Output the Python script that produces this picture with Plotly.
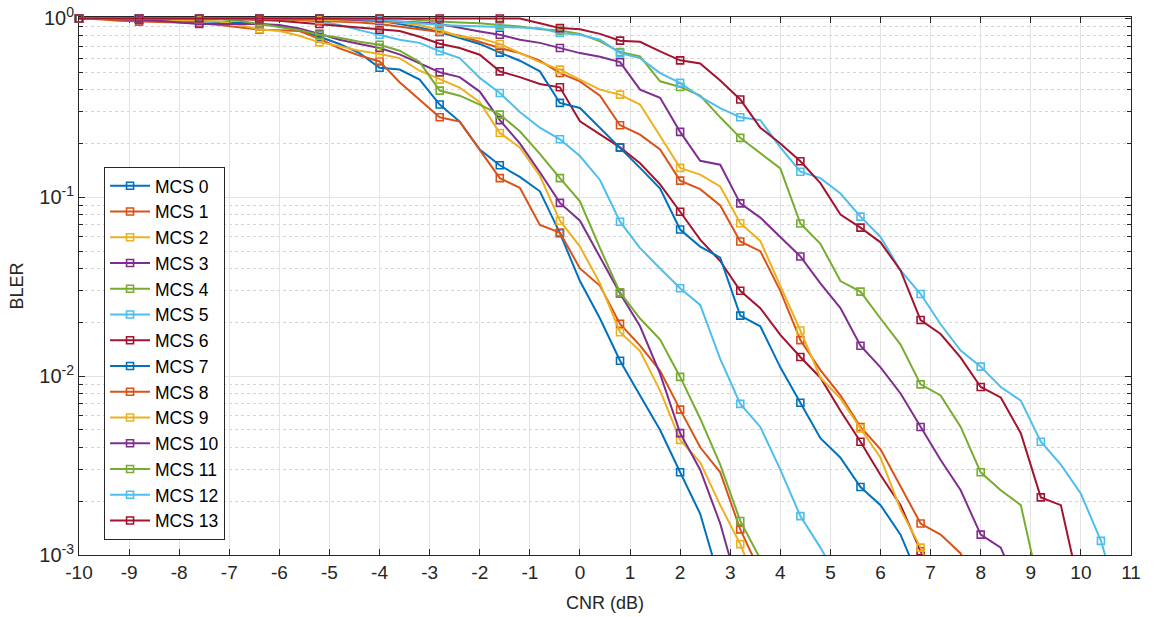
import plotly.graph_objects as go

# ---------------- data ----------------
CNR = [-10.0, -9.6, -9.2, -8.8, -8.4, -8.0, -7.6, -7.2, -6.8, -6.4, -6.0, -5.6, -5.2, -4.8,
       -4.4, -4.0, -3.6, -3.2, -2.8, -2.4, -2.0, -1.6, -1.2, -0.8, -0.4, 0.0, 0.4, 0.8,
       1.2, 1.6, 2.0, 2.4, 2.8, 3.2, 3.6, 4.0, 4.4, 4.8, 5.2, 5.6, 6.0, 6.4, 6.8, 7.2,
       7.6, 8.0, 8.4, 8.8, 9.2, 9.6, 10.0, 10.4, 10.8]

NAMES = ["MCS 0", "MCS 1", "MCS 2", "MCS 3", "MCS 4", "MCS 5", "MCS 6",
         "MCS 7", "MCS 8", "MCS 9", "MCS 10", "MCS 11", "MCS 12", "MCS 13"]

MCS0 = [1.0, 1.0, 1.0, 0.985, 0.98, 0.975, 0.965, 0.955, 0.945, 0.935, 0.90, 0.86, 0.79, 0.72, 0.64, 0.53,
        0.518, 0.455, 0.33, 0.265, 0.185, 0.151, 0.13, 0.108, 0.063, 0.034, 0.021, 0.0122, 0.0078, 0.0050,
        0.0029, 0.0017, 0.0007]
MCS1 = [1.0, 0.99, 0.97, 0.96, 0.955, 0.95, 0.94, 0.92, 0.89, 0.865, 0.86, 0.85, 0.77, 0.68, 0.62, 0.575,
        0.44, 0.35, 0.28, 0.265, 0.185, 0.128, 0.113, 0.07, 0.0635, 0.04, 0.032, 0.0196, 0.0148, 0.0107,
        0.0065, 0.0040, 0.0029, 0.00139, 0.0008]
MCS2 = [1.0, 1.0, 0.995, 0.99, 0.985, 0.98, 0.975, 0.96, 0.92, 0.87, 0.85, 0.80, 0.735, 0.70, 0.66, 0.632,
        0.60, 0.51, 0.455, 0.41, 0.34, 0.229, 0.19, 0.132, 0.074, 0.053, 0.033, 0.0176, 0.0138, 0.0083,
        0.0044, 0.0033, 0.0019, 0.00115, 0.0006]
MCS3 = [1.0, 1.0, 0.99, 0.98, 0.97, 0.95, 0.93, 0.93, 0.93, 0.93, 0.92, 0.88, 0.82, 0.76, 0.72, 0.683,
        0.63, 0.56, 0.50, 0.47, 0.39, 0.27, 0.20, 0.138, 0.093, 0.074, 0.046, 0.029, 0.019, 0.0103,
        0.0048, 0.0030, 0.0015, 0.0006]
MCS4 = [1.0, 1.0, 1.0, 1.0, 1.0, 0.995, 0.99, 0.99, 0.97, 0.93, 0.90, 0.86, 0.81, 0.78, 0.74, 0.713,
        0.66, 0.57, 0.395, 0.37, 0.33, 0.29, 0.234, 0.175, 0.128, 0.095, 0.052, 0.0294, 0.021, 0.016,
        0.0099, 0.0058, 0.0032, 0.00155, 0.00095]
MCS5 = [1.0, 1.0, 1.0, 1.0, 1.0, 1.0, 1.0, 1.0, 1.0, 1.0, 0.99, 0.98, 0.96, 0.92, 0.86, 0.81,
        0.76, 0.73, 0.655, 0.60, 0.465, 0.383, 0.30, 0.245, 0.211, 0.17, 0.125, 0.073, 0.052, 0.040,
        0.031, 0.025, 0.0125, 0.0070, 0.0052, 0.0030, 0.00165, 0.0011, 0.0007]
MCS6 = [1.0, 1.0, 1.0, 1.0, 1.0, 1.0, 1.0, 1.0, 0.99, 0.98, 0.97, 0.95, 0.93, 0.91, 0.89, 0.865,
        0.85, 0.79, 0.722, 0.683, 0.627, 0.506, 0.47, 0.43, 0.412, 0.266, 0.224, 0.19, 0.155, 0.118,
        0.083, 0.058, 0.044, 0.030, 0.024, 0.017, 0.0128, 0.0098, 0.0064, 0.0043, 0.0028, 0.0019,
        0.00105, 0.0006]
MCS7 = [1.0, 1.0, 1.0, 1.0, 1.0, 1.0, 1.0, 1.0, 1.0, 1.0, 1.0, 1.0, 0.995, 0.99, 0.98, 0.97,
        0.93, 0.89, 0.84, 0.776, 0.72, 0.644, 0.58, 0.506, 0.337, 0.316, 0.245, 0.19, 0.146, 0.112,
        0.066, 0.053, 0.046, 0.0218, 0.019, 0.0112, 0.0071, 0.0045, 0.0035, 0.0024, 0.0019, 0.0013,
        0.0007]
MCS8 = [1.0, 1.0, 1.0, 1.0, 1.0, 1.0, 1.0, 1.0, 1.0, 0.99, 0.99, 0.98, 0.97, 0.96, 0.95, 0.93,
        0.90, 0.87, 0.84, 0.80, 0.74, 0.683, 0.64, 0.58, 0.495, 0.445, 0.37, 0.253, 0.224, 0.185,
        0.124, 0.111, 0.09, 0.0566, 0.05, 0.03, 0.0159, 0.0108, 0.0078, 0.0052, 0.0039, 0.0024,
        0.0015, 0.0013, 0.00102, 0.0006]
MCS9 = [1.0, 1.0, 1.0, 1.0, 1.0, 1.0, 1.0, 1.0, 1.0, 1.0, 0.995, 0.99, 0.985, 0.98, 0.97, 0.96,
        0.95, 0.92, 0.865, 0.79, 0.776, 0.72, 0.64, 0.57, 0.517, 0.455, 0.40, 0.375, 0.33, 0.22,
        0.146, 0.134, 0.115, 0.0716, 0.057, 0.032, 0.018, 0.0098, 0.0075, 0.0051, 0.0035, 0.0018,
        0.0011, 0.0006]
MCS10 = [1.0, 1.0, 1.0, 1.0, 1.0, 1.0, 1.0, 1.0, 1.0, 1.0, 1.0, 1.0, 1.0, 0.99, 0.98, 0.97,
         0.96, 0.95, 0.93, 0.883, 0.846, 0.81, 0.76, 0.73, 0.683, 0.64, 0.61, 0.57, 0.40, 0.36,
         0.232, 0.16, 0.152, 0.0925, 0.077, 0.06, 0.0467, 0.033, 0.024, 0.0148, 0.0112, 0.0080,
         0.0052, 0.0034, 0.0023, 0.0013, 0.0011, 0.0006]
MCS11 = [1.0, 1.0, 1.0, 1.0, 1.0, 1.0, 1.0, 1.0, 1.0, 1.0, 1.0, 1.0, 1.0, 1.0, 1.0, 1.0,
         1.0, 0.98, 0.96, 0.95, 0.94, 0.92, 0.90, 0.87, 0.855, 0.82, 0.744, 0.649, 0.614, 0.445,
         0.414, 0.37, 0.28, 0.215, 0.177, 0.145, 0.0713, 0.055, 0.034, 0.0297, 0.021, 0.015,
         0.009, 0.0078, 0.0052, 0.0029, 0.0023, 0.0019, 0.0006]
MCS12 = [1.0, 1.0, 1.0, 1.0, 1.0, 1.0, 1.0, 1.0, 1.0, 1.0, 1.0, 1.0, 1.0, 1.0, 0.99, 0.98,
         0.96, 0.94, 0.92, 0.91, 0.905, 0.90, 0.89, 0.88, 0.83, 0.81, 0.76, 0.64, 0.60, 0.495,
         0.436, 0.365, 0.315, 0.28, 0.27, 0.19, 0.139, 0.128, 0.105, 0.078, 0.06, 0.039,
         0.0288, 0.0195, 0.0139, 0.0113, 0.0087, 0.0073, 0.0043, 0.0032, 0.0022, 0.0012, 0.0005]
MCS13 = [1.0, 1.0, 1.0, 1.0, 1.0, 1.0, 1.0, 1.0, 1.0, 1.0, 1.0, 1.0, 1.0, 1.0, 1.0, 1.0,
         1.0, 1.0, 1.0, 1.0, 1.0, 1.0, 1.0, 0.94, 0.883, 0.87, 0.82, 0.751, 0.74, 0.655,
         0.583, 0.56, 0.45, 0.352, 0.245, 0.20, 0.159, 0.12, 0.080, 0.0677, 0.056, 0.039,
         0.0206, 0.0172, 0.0127, 0.0087, 0.0076, 0.0048, 0.0021, 0.0019, 0.0006]

SERIES = [MCS0, MCS1, MCS2, MCS3, MCS4, MCS5, MCS6, MCS7, MCS8, MCS9, MCS10, MCS11, MCS12, MCS13]

XTICKS = [-10, -9, -8, -7, -6, -5, -4, -3, -2, -1, 0, 1, 2, 3, 4, 5, 6, 7, 8, 9, 10, 11]
XTICKTEXT = ["-10", "-9", "-8", "-7", "-6", "-5", "-4", "-3", "-2", "-1", "0", "1", "2", "3",
             "4", "5", "6", "7", "8", "9", "10", "11"]
YTICKS = [0.001, 0.01, 0.1, 1.0]
YTICKTEXT = ["10<sup>-3</sup>", "10<sup>-2</sup>", "10<sup>-1</sup>", "10<sup>0</sup>"]
YMINOR = [m * d for d in (0.001, 0.01, 0.1) for m in range(2, 10)]

COLORS = ["#0072BD", "#D95319", "#EDB120", "#7E2F8E", "#77AC30", "#4DBEEE", "#A2142F"]

# ---------------- figure ----------------
fig = go.Figure()
MARK_EVERY = 3
LW = 2.0
for k, (name, ys) in enumerate(zip(NAMES, SERIES)):
    c = COLORS[k % len(COLORS)]
    xs = CNR[:len(ys)]
    fig.add_trace(go.Scatter(x=xs, y=ys, mode="lines", line=dict(color=c, width=LW),
                             showlegend=False, hoverinfo="skip"))
    mx = [x for i, (x, y) in enumerate(zip(xs, ys)) if i % MARK_EVERY == 0 and y >= 0.001]
    my = [y for i, (x, y) in enumerate(zip(xs, ys)) if i % MARK_EVERY == 0 and y >= 0.001]
    fig.add_trace(go.Scatter(x=mx, y=my, mode="markers", cliponaxis=False,
                             marker=dict(symbol="square-open", size=7, color=c,
                                         line=dict(width=1.6, color=c)),
                             showlegend=False, hoverinfo="skip"))
    fig.add_trace(go.Scatter(x=[None], y=[None], mode="lines+markers", name=name,
                             line=dict(color=c, width=LW),
                             marker=dict(symbol="square-open", size=7, color=c,
                                         line=dict(width=1.6, color=c))))

axis_col = "#262626"
fig.update_layout(
    width=1154, height=617,
    margin=dict(l=79, r=23, t=17, b=62),
    paper_bgcolor="white", plot_bgcolor="white",
    font=dict(family="Liberation Sans, Arial, sans-serif", color=axis_col, size=16),
    legend=dict(x=0.0238, y=0.028, xanchor="left", yanchor="bottom",
                bgcolor="white", bordercolor=axis_col, borderwidth=1,
                font=dict(size=17.5, color="black"), tracegroupgap=0, itemwidth=40),
    xaxis=dict(range=[-10, 11], tickmode="array", tickvals=XTICKS, ticktext=XTICKTEXT,
               ticks="inside", ticklen=6, tickcolor=axis_col, showline=True, linecolor=axis_col,
               linewidth=1, mirror="ticks", showgrid=True, gridcolor="#e3e3e3", gridwidth=1,
               zeroline=False, layer="below traces", automargin=False,
               ticklabeloverflow="allow",
               tickfont=dict(size=19, family="Liberation Sans Narrow, Liberation Sans, Arial"),
               title=dict(text="CNR (dB)", font=dict(size=18), standoff=14)),
    yaxis=dict(type="log", range=[-3, 0.008], tickmode="array", tickvals=YTICKS,
               ticktext=YTICKTEXT, ticks="inside", ticklen=6, tickcolor=axis_col,
               showline=True, linecolor=axis_col, linewidth=1, mirror="ticks",
               showgrid=True, gridcolor="#e3e3e3", gridwidth=1, zeroline=False,
               layer="below traces", automargin=False, ticklabeloverflow="allow",
               minor=dict(tickmode="array", tickvals=YMINOR, ticks="inside", ticklen=4,
                          tickcolor=axis_col, showgrid=True, gridcolor="#d4d4d4",
                          griddash="dot", gridwidth=1),
               tickfont=dict(size=20, family="Liberation Sans Narrow, Liberation Sans, Arial"),
               title=dict(text="BLER", font=dict(size=18), standoff=10)),
)

# remove the browser's default page margin so the figure fills the window exactly
fig.write_html("out.html", config={"displayModeBar": False},
               post_script="document.body.style.margin='0';")
